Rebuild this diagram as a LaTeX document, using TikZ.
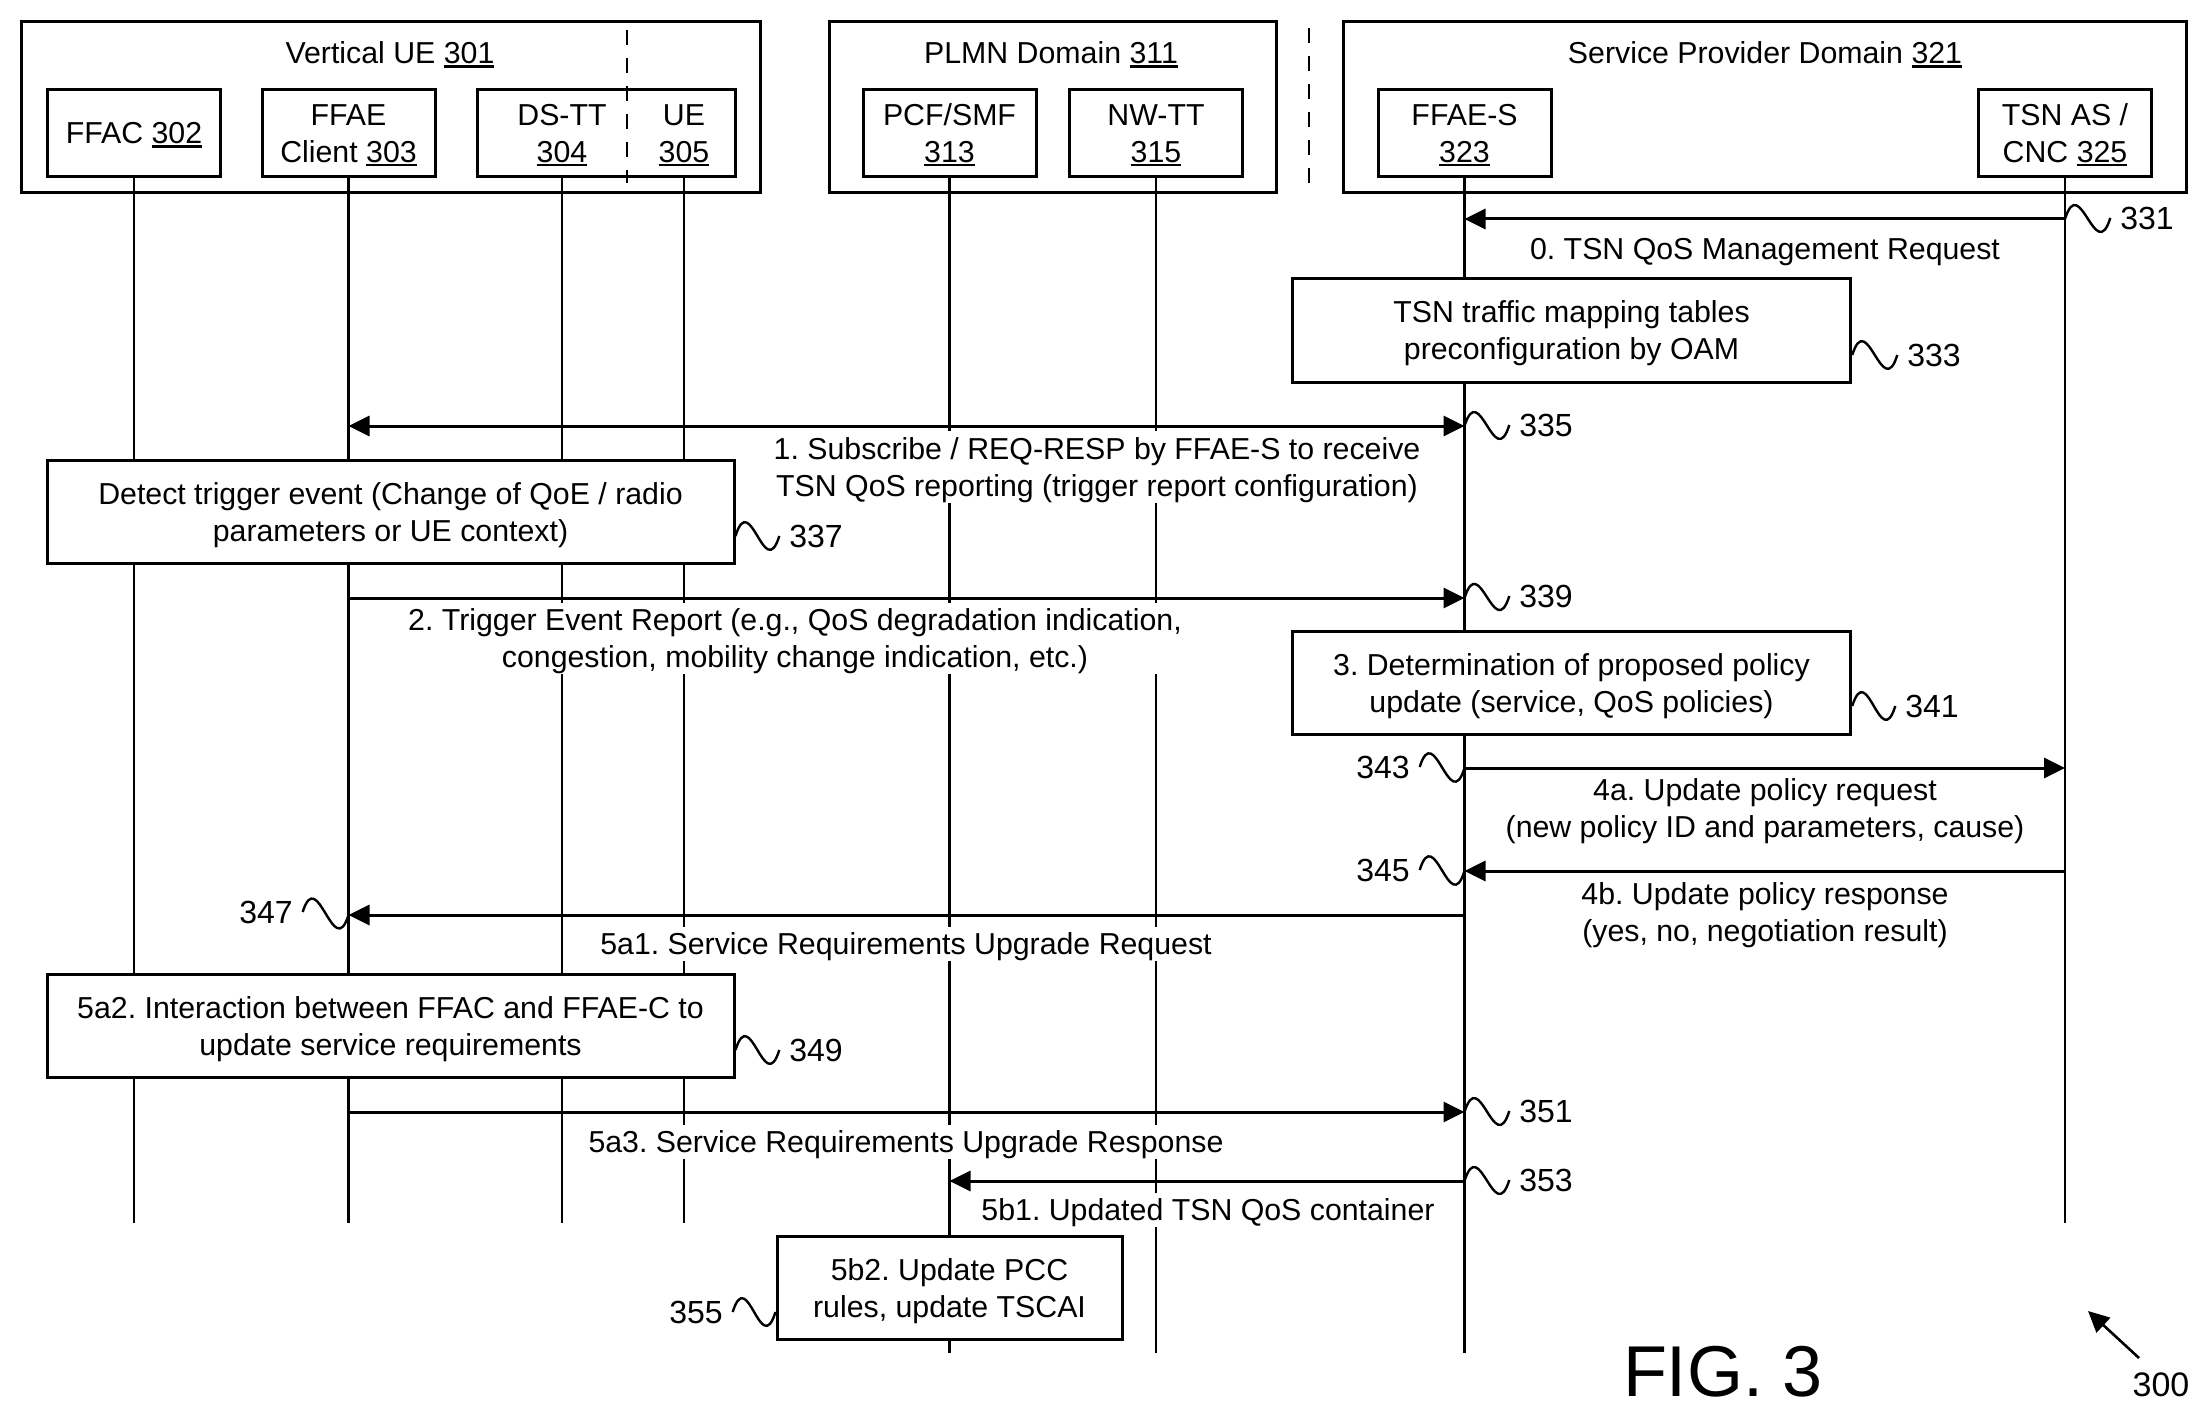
\documentclass[tikz,border=0pt]{standalone}
\usepackage{fontspec}
\setmainfont{Liberation Sans}
\usetikzlibrary{arrows.meta}

\frenchspacing
\newcommand{\refnum}[1]{\setbox0\hbox{#1}\rlap{\rule[-4pt]{\wd0}{2.5pt}}\box0}

\begin{document}
\begin{tikzpicture}[x=1pt,y=-1pt,line width=3pt,
        raised/.style={execute at begin node={\rule{0pt}{#1}}},
        txt/.style={font=\fontsize{30.3}{37}\selectfont,align=center,inner sep=2pt},
        domainbox/.style={rectangle,draw,minimum width=#1,minimum height=171pt,inner sep=0pt},
        plainunit/.style={rectangle,draw,minimum width=#1,minimum height=87pt,txt},
        unitbox/.style={plainunit=#1,raised=62pt},
        procbox/.style={rectangle,draw,fill=white,minimum width=#1,minimum height=103pt,txt,raised=65pt},
        msglabel/.style={txt,fill=white,inner ysep=0pt,raised=28pt},
        twolabel/.style={txt,fill=white,inner ysep=0pt,raised=65pt},
        numlabel/.style={font=\fontsize{32}{38}\selectfont,inner sep=0pt,outer xsep=10pt},
        msgarrow/.style={-{Triangle[length=21pt,width=20pt]}},
        botharrow/.style={{Triangle[length=21pt,width=20pt]}-{Triangle[length=21pt,width=20pt]}},
        lifeline/.style={line width=2.6pt},
        divider/.style={line width=2pt,dash pattern=on 15pt off 13pt},
        wavy/.style={line width=2.4pt,to path={.. controls ([shift={(15,-48)}]\tikztostart) and ([shift={(-15,48)}]\tikztotarget) .. (\tikztotarget)}}]

    \useasboundingbox (0,0) rectangle (2210,1420);

    % domains
    \node[domainbox=739pt] (vue) at (390.5,107.5) {};
    \node[domainbox=447pt] (plmn) at (1052.5,107.5) {};
    \node[domainbox=843pt] (spd) at (1764.5,107.5) {};
    \node[txt,raised=28pt] (vuetitle) at (390,52) {Vertical UE \refnum{301}};
    \node[txt,raised=28pt] (plmntitle) at (1051,52) {PLMN Domain \refnum{311}};
    \node[txt,raised=28pt] (spdtitle) at (1765,52) {Service Provider Domain \refnum{321}};

    % units
    \node[plainunit=173pt,raised=25pt] (ffac) at (134,133.5) {FFAC \refnum{302}};
    \node[unitbox=173pt] (ffaec) at (348.5,133.5) {FFAE\\Client \refnum{303}};
    \node[plainunit=258pt] (dsue) at (606,133.5) {};
    \node[txt,raised=62pt] (dstt) at (562,133.5) {DS-TT\\\refnum{304}};
    \node[txt,raised=62pt] (ue) at (684,133.5) {UE\\\refnum{305}};
    \node[unitbox=173pt] (pcf) at (949.5,133.5) {PCF/SMF\\\refnum{313}};
    \node[unitbox=173pt] (nwtt) at (1156,133.5) {NW-TT\\\refnum{315}};
    \node[unitbox=173pt] (ffaes) at (1464.5,133.5) {FFAE-S\\\refnum{323}};
    \node[unitbox=173pt] (tsn) at (2065,133.5) {TSN AS /\\CNC \refnum{325}};

    \coordinate (divatop) at (627,30);
    \coordinate (divabot) at (627,183);
    \coordinate (divbtop) at (1309,28);
    \coordinate (divbbot) at (1309,183);
    \draw[divider] (divatop) -- (divabot);
    \draw[divider] (divbtop) -- (divbbot);

    % lifelines
    \foreach \n/\e in {ffac/1223,ffaec/1223,pcf/1353,nwtt/1353,ffaes/1353,tsn/1223}
        \draw[lifeline] (\n.south) -- (\n.south |- 0,\e);
    \foreach \n in {dstt,ue}
        \draw[lifeline] (dsue.south -| \n) -- (\n |- 0,1223);

    % message ends
    \foreach \m/\y in {m0/219,m1/426,m2/598,m4a/768,m4b/871,m5aa/915,m5ac/1112,m5ba/1181}
        \coordinate (s\m) at (ffaes.south |- 0,\y);
    \foreach \m/\y in {m1/426,m2/598,m5aa/915,m5ac/1112}
        \coordinate (c\m) at (ffaec.south |- 0,\y);
    \foreach \m/\y in {m0/219,m4a/768,m4b/871}
        \coordinate (t\m) at (tsn.south |- 0,\y);
    \coordinate (pm5ba) at (pcf.south |- 0,1181);

    % boxes
    \node[procbox=558.5pt] (mapping) at (1571.5,330.5) {TSN traffic mapping tables\\preconfiguration by OAM};
    \node[procbox=687pt] (detect) at (390.5,512) {Detect trigger event (Change of QoE / radio\\parameters or UE context)};
    \node[procbox=558.5pt] (determine) at (1571.5,683) {3. Determination of proposed policy\\update (service, QoS policies)};
    \node[procbox=687pt] (interact) at (390.5,1026) {5a2. Interaction between FFAC and FFAE-C to\\update service requirements};
    \node[procbox=345pt] (pccrules) at (949.5,1288) {5b2. Update PCC\\rules, update TSCAI};

    % messages
    \draw[msgarrow] (tm0) -- (sm0);
    \draw[botharrow] (cm1) -- (sm1);
    \draw[msgarrow] (cm2) -- (sm2);
    \draw[msgarrow] (sm4a) -- (tm4a);
    \draw[msgarrow] (tm4b) -- (sm4b);
    \draw[msgarrow] (sm5aa) -- (cm5aa);
    \draw[msgarrow] (cm5ac) -- (sm5ac);
    \draw[msgarrow] (sm5ba) -- (pm5ba);

    \node[msglabel] (lab0) at (1765,249) {0. TSN QoS Management Request};
    \node[twolabel] (lab1) at (1097,467) {1. Subscribe / REQ-RESP by FFAE-S to receive\\TSN QoS reporting (trigger report configuration)};
    \node[twolabel] (lab2) at (795,638.5) {2. Trigger Event Report (e.g., QoS degradation indication,\\congestion, mobility change indication, etc.)};
    \node[twolabel] (lab4a) at (1765,808) {4a. Update policy request\\(new policy ID and parameters, cause)};
    \node[twolabel] (lab4b) at (1765,912) {4b. Update policy response\\(yes, no, negotiation result)};
    \node[msglabel] (lab5aa) at (906,944) {5a1. Service Requirements Upgrade Request};
    \node[msglabel] (lab5ac) at (906,1142) {5a3. Service Requirements Upgrade Response};
    \node[msglabel] (lab5ba) at (1208,1210) {5b1. Updated TSN QoS container};

    % reference numbers
    \node[numlabel] (n331) at (2147,218) {331};
    \node[numlabel] (n333) at (1934,355) {333};
    \node[numlabel] (n335) at (1546,425) {335};
    \node[numlabel] (n337) at (816,536) {337};
    \node[numlabel] (n339) at (1546,596) {339};
    \node[numlabel] (n341) at (1932,706) {341};
    \node[numlabel] (n343) at (1383,767) {343};
    \node[numlabel] (n345) at (1383,870) {345};
    \node[numlabel] (n347) at (266,912) {347};
    \node[numlabel] (n349) at (816,1050) {349};
    \node[numlabel] (n351) at (1546,1111) {351};
    \node[numlabel] (n353) at (1546,1180) {353};
    \node[numlabel] (n355) at (696,1312) {355};

    \path[wavy]
    (tm0) edge (n331.west)
    (mapping.east |- n333) edge (n333.west)
    (sm1) edge (n335.west)
    (detect.east |- n337) edge (n337.west)
    (sm2) edge (n339.west)
    (determine.east |- n341) edge (n341.west)
    (n343.east) edge (sm4a)
    (n345.east) edge (sm4b)
    (n347.east) edge (cm5aa)
    (interact.east |- n349) edge (n349.west)
    (sm5ac) edge (n351.west)
    (sm5ba) edge (n353.west)
    (n355.east) edge (pccrules.west |- n355);

    % figure label
    \node[font=\fontsize{72}{80}\selectfont,inner sep=0pt,anchor=base] (figlabel) at (1723,1396) {FIG. 3};
    \node[font=\fontsize{34}{40}\selectfont,inner sep=0pt] (n300) at (2161,1385) {300};
    \coordinate (arrowtail) at (2139,1358);
    \coordinate (arrowtip) at (2088,1311);
    \draw[msgarrow,line width=2.6pt] (arrowtail) -- (arrowtip);

\end{tikzpicture}
\end{document}
